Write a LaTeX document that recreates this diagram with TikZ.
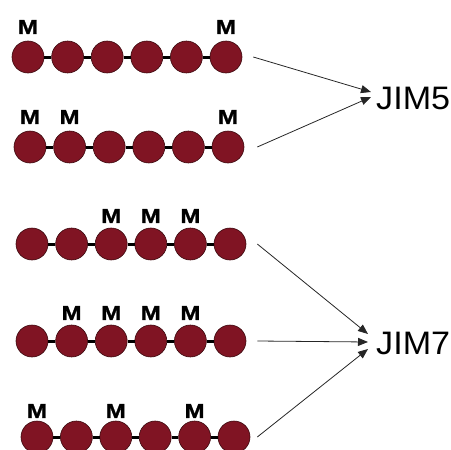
\documentclass[tikz,border=0pt]{standalone}
\usepackage{fontspec}
\setmainfont{Liberation Sans}
\newfontfamily\mfont{Liberation Sans Bold}[FakeBold=1.2]
\usetikzlibrary{arrows.meta}
\definecolor{beadfill}{RGB}{128,20,35}
\definecolor{beadedge}{RGB}{60,10,15}
\begin{document}
\begin{tikzpicture}[x=1pt,y=-1pt,
  bead/.style={circle,fill=beadfill,draw=beadedge,line width=0.6pt,minimum size=32pt,inner sep=0pt},
  link/.style={line width=3pt,black},
  mlabel/.style={font=\mfont\fontsize{20}{22}\selectfont,inner sep=0pt,xscale=1.2},
  jim/.style={font=\fontsize{32.5}{38}\selectfont,inner sep=0pt,anchor=west,xscale=1.05},
  arr/.style={line width=0.8pt,draw=black!85,-{Triangle[length=10pt,width=8pt]}}]
\useasboundingbox (0,0) rectangle (451,450);
\foreach \r/\y/\xs/\d in {1/57/28/39.6, 2/147/30/39.6, 3/244/32/39.6, 4/341/32/39.6, 5/437/37/39.4} {
  \foreach \c in {1,...,6} { \node[bead] (r\r-\c) at ({\xs+(\c-1)*\d},\y) {}; }
  \foreach \c [count=\n from 2] in {1,...,5} { \draw[link] (r\r-\c) -- (r\r-\n); }
}
\foreach \r/\c/\o in {1/1/30,1/6/30,2/1/30,2/2/30,2/6/30,3/3/28,3/4/28,3/5/28,4/2/28,4/3/28,4/4/28,4/5/28,5/1/26,5/3/26,5/5/26}
  \node[mlabel] (m\r-\c) at ([yshift=\o pt]r\r-\c.center) {M};
\node[jim] (jim5) at (376,98) {JIM5};
\node[jim] (jim7) at (376,343.5) {JIM7};
\coordinate (j5a) at (371,92);
\coordinate (j5b) at (371,97);
\coordinate (j7a) at (368,334);
\coordinate (j7b) at (368,342);
\coordinate (j7c) at (368,349);
\draw[arr] ([xshift=11pt]r1-6.east) -- (j5a);
\draw[arr] ([xshift=13pt]r2-6.east) -- (j5b);
\draw[arr] ([xshift=11pt]r3-6.east) -- (j7a);
\draw[arr] ([xshift=11pt]r4-6.east) -- (j7b);
\draw[arr] ([xshift=7pt]r5-6.east) -- (j7c);
\end{tikzpicture}
\end{document}
